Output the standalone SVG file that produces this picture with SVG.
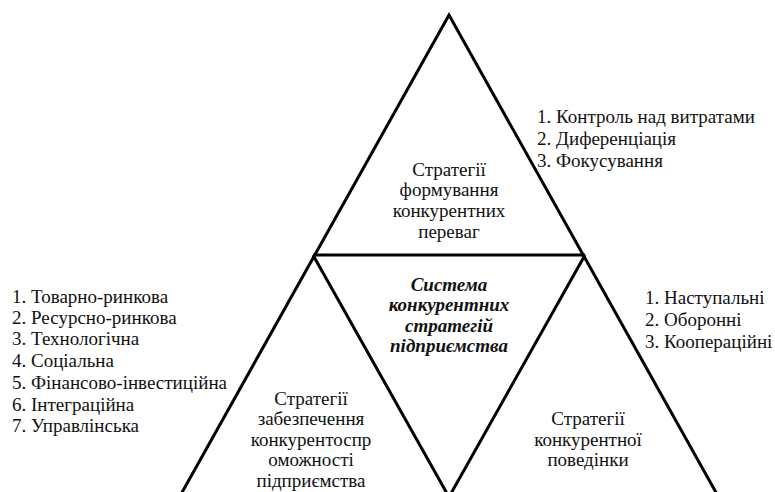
<svg xmlns="http://www.w3.org/2000/svg" width="775" height="492" viewBox="0 0 775 492">
<style>
.t{font-family:"Liberation Serif","Times New Roman",serif;font-size:19px;fill:#111}
.c{text-anchor:middle}
.b{font-weight:bold;font-style:italic}
.ln{fill:none;stroke:#000;stroke-width:3;stroke-linejoin:miter}
</style>
<rect width="775" height="492" fill="#fff"/>
<g id="connectors">
<polygon class="ln" points="449,15 180,496 718,496"/>
<line class="ln" x1="313" y1="255" x2="585" y2="255"/>
<polyline class="ln" points="313,255 449,497 585,255"/>
</g>
<g id="top">
<text class="t c" x="449" y="176">Стратегії</text>
<text class="t c" x="449" y="196">формування</text>
<text class="t c" x="449" y="217">конкурентних</text>
<text class="t c" x="449" y="238">переваг</text>
</g>
<g id="center">
<text class="t c b" x="449" y="291">Система</text>
<text class="t c b" x="449" y="311">конкурентних</text>
<text class="t c b" x="449" y="332">стратегій</text>
<text class="t c b" x="449" y="352">підприємства</text>
</g>
<g id="left">
<text class="t c" x="311" y="405">Стратегії</text>
<text class="t c" x="311" y="425">забезпечення</text>
<text class="t c" x="311" y="446">конкурентоспр</text>
<text class="t c" x="311" y="466">оможності</text>
<text class="t c" x="311" y="487">підприємства</text>
</g>
<g id="right">
<text class="t c" x="588" y="425">Стратегії</text>
<text class="t c" x="588" y="446">конкурентної</text>
<text class="t c" x="588" y="466">поведінки</text>
</g>
<g id="list-left">
<text class="t" x="12" y="303">1. Товарно-ринкова</text>
<text class="t" x="12" y="324">2. Ресурсно-ринкова</text>
<text class="t" x="12" y="345">3. Технологічна</text>
<text class="t" x="12" y="367">4. Соціальна</text>
<text class="t" x="12" y="389">5. Фінансово-інвестиційна</text>
<text class="t" x="12" y="411">6. Інтеграційна</text>
<text class="t" x="12" y="432">7. Управлінська</text>
</g>
<g id="list-top">
<text class="t" x="537" y="123">1. Контроль над витратами</text>
<text class="t" x="537" y="145">2. Диференціація</text>
<text class="t" x="537" y="167">3. Фокусування</text>
</g>
<g id="list-right">
<text class="t" x="645" y="304">1. Наступальні</text>
<text class="t" x="645" y="326">2. Оборонні</text>
<text class="t" x="645" y="348">3. Коопераційні</text>
</g>
</svg>
